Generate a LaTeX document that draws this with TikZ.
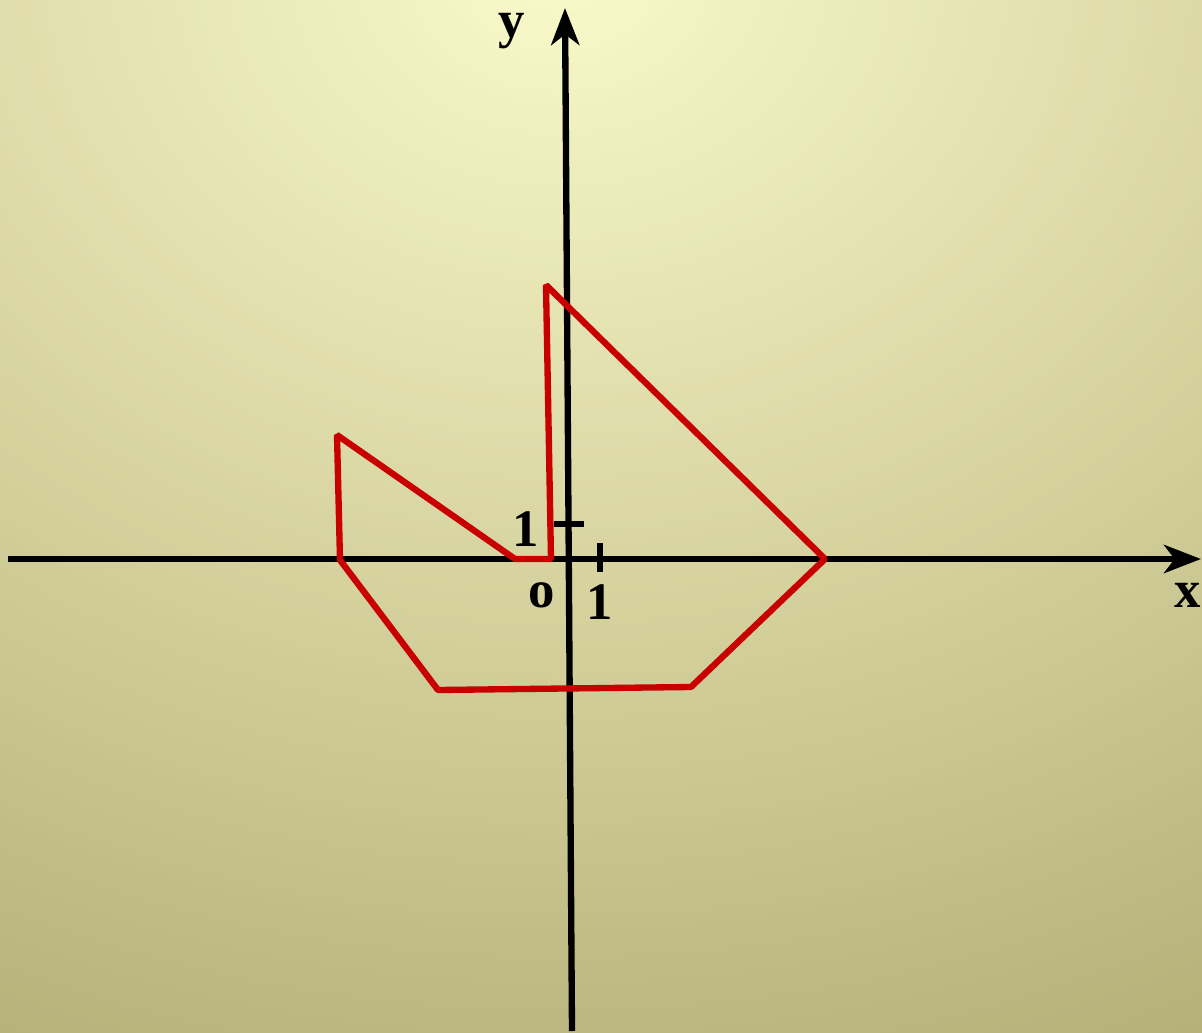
\documentclass[tikz,border=0pt]{standalone}
\usepackage{fontspec}
\setmainfont{Liberation Serif}
\usetikzlibrary{arrows.meta}
\definecolor{bgtop}{RGB}{249,249,202}
\definecolor{bgbot}{RGB}{178,172,116}
\definecolor{boatred}{RGB}{200,0,0}
\begin{document}
\begin{tikzpicture}[x=0.01cm,y=-0.01cm,
  axis/.style={line width=1.8pt, black},
  tip/.style={-{Stealth[length=10.5pt,width=8pt,inset=3pt]}},
  boat/.style={line width=1.8pt, boatred, line join=bevel},
  lbl/.style={font=\fontsize{15}{17}\selectfont\bfseries, inner sep=0pt, text=black}]
\useasboundingbox (0,0) rectangle (1202,1033);
\begin{scope}
  \clip (0,0) rectangle (1202,1033);
  \fill[bgbot] (0,0) rectangle (1202,1033);
  \foreach \i in {0,...,119}{
    \pgfmathsetmacro{\p}{\i/119*100}
    \pgfmathsetmacro{\rx}{15.5*(1-\i/120)}
    \pgfmathsetmacro{\ry}{12.5*(1-\i/120)}
    \fill[bgtop!\p!bgbot] (560,-30) ellipse [x radius=\rx cm, y radius=\ry cm];
  }
\end{scope}
% axes
\coordinate (xs) at (8,559);
\coordinate (xe) at (1201,559);
\coordinate (ys) at (572,1031);
\coordinate (ye) at (565,8);
\draw[axis, tip] (xs) -- (xe);
\draw[axis, tip] (ys) -- (ye);
% ticks
\coordinate (ty1) at (554,524);
\coordinate (ty2) at (584,524);
\coordinate (tx1) at (600,543);
\coordinate (tx2) at (600,572);
\draw[axis] (ty1) -- (ty2);
\draw[axis] (tx1) -- (tx2);
% labels
\node[lbl] (ylab) at (512,31) {y};
\node[lbl] (xlab) at (1188,595) {x};
\node[lbl] (one y) at (526,529) {1};
\node[lbl] (one x) at (600,602) {1};
\node[lbl] (orig) at (542,595) {o};
% boat
\coordinate (A) at (551,559);
\coordinate (B) at (546,285);
\coordinate (C) at (825,559);
\coordinate (D) at (691,687);
\coordinate (E) at (438,690);
\coordinate (F) at (340,560);
\coordinate (G) at (337,435);
\coordinate (H) at (515,559);
\draw[boat] (A) -- (B) -- (C) -- (D) -- (E) -- (F) -- (G) -- (H) -- cycle;
\end{tikzpicture}
\end{document}
